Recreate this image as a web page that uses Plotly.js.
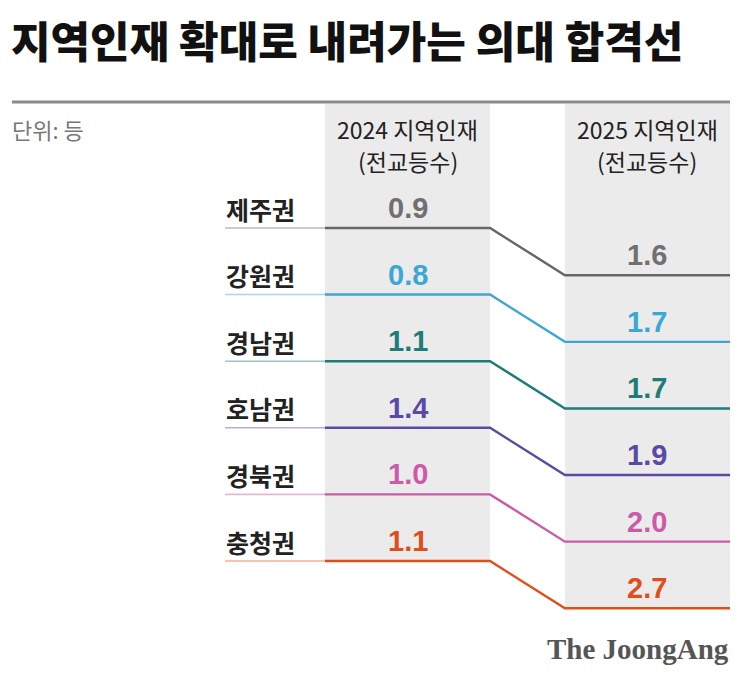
<!DOCTYPE html>
<html>
<head>
<meta charset="utf-8">
<script src="https://cdn.plot.ly/plotly-3.0.1.min.js"></script>
<style>
  html, body { margin: 0; padding: 0; background: #ffffff; }
  #chart { width: 743px; height: 673px; }
</style>
</head>
<body>
<div id="chart"></div>
<script>
// Regions, ordered as rows from top to bottom
const regions = ['제주권', '강원권', '경남권', '호남권', '경북권', '충청권'];
// Cut-off class rank of regional-quota admissions
const rank2024 = [0.9, 0.8, 1.1, 1.4, 1.0, 1.1];
const rank2025 = [1.6, 1.7, 1.7, 1.9, 2.0, 2.7];
const colors = ['#666666', '#3ba7d5', '#217b77', '#5a4aa5', '#cc5aa8', '#e04e1d'];
const labelColors = ['#707070', '#3ba7d5', '#217b77', '#5a4aa5', '#cc5aa8', '#e04e1d'];
const columnYears = ['2024 지역인재', '2025 지역인재'];
const columnSub = '(전교등수)';

// Geometry: x unit = distance between the two column centres; y unit = one row
const COL_HALF = 0.344;      // half width of a shaded column
const LINE_START = -0.76;    // where the row line starts, under the region name
const DROP = 0.71;           // vertical shift of each row in the 2025 column
const LABEL_UP = 0.30;       // labels sit this far above their line
const COL_TOP = -1.86;

const KR = '"Noto Sans CJK KR", "Noto Sans", sans-serif';
const NUM = '"Liberation Sans", Arial, sans-serif';

const traces = [];
const annotations = [];

regions.forEach((name, i) => {
  const yL = i, yR = i + DROP;
  // faint lead-in under the region name
  traces.push({
    type: 'scatter', mode: 'lines', hoverinfo: 'skip', showlegend: false,
    x: [LINE_START, -COL_HALF], y: [yL, yL],
    line: { color: colors[i], width: 1.6 }, opacity: 0.45
  });
  // main slope line across both columns
  traces.push({
    type: 'scatter', mode: 'lines', hoverinfo: 'skip', showlegend: false,
    x: [-COL_HALF, COL_HALF, 1 - COL_HALF, 1 + COL_HALF],
    y: [yL, yL, yR, yR],
    line: { color: colors[i], width: 2.4 }
  });
  annotations.push({
    xref: 'x', yref: 'y', x: LINE_START - 0.005, y: yL - LABEL_UP + 0.01,
    xanchor: 'left', yanchor: 'middle', showarrow: false,
    text: name, font: { family: KR, size: 25, color: '#222222', weight: 700 }
  });
  annotations.push({
    xref: 'x', yref: 'y', x: 0, y: yL - LABEL_UP,
    xanchor: 'center', yanchor: 'middle', showarrow: false,
    text: rank2024[i].toFixed(1), font: { family: NUM, size: 29, color: labelColors[i], weight: 700 }
  });
  annotations.push({
    xref: 'x', yref: 'y', x: 1, y: yR - LABEL_UP,
    xanchor: 'center', yanchor: 'middle', showarrow: false,
    text: rank2025[i].toFixed(1), font: { family: NUM, size: 29, color: labelColors[i], weight: 700 }
  });
});

// column headers: year line and sub line
columnYears.forEach((t, c) => {
  annotations.push({
    xref: 'x', yref: 'y', x: c, y: -1.49,
    xanchor: 'center', yanchor: 'middle', showarrow: false, borderpad: 0,
    text: t, font: { family: KR, size: 23, color: '#222222' }
  });
  annotations.push({
    xref: 'x', yref: 'y', x: c, y: -1.0,
    xanchor: 'center', yanchor: 'middle', showarrow: false, borderpad: 0,
    text: columnSub, font: { family: KR, size: 23, color: '#222222' }
  });
});

const last = regions.length - 1;
const shapes = [
  { type: 'rect', layer: 'below', xref: 'x', yref: 'y',
    x0: -COL_HALF, x1: COL_HALF, y0: COL_TOP, y1: last,
    fillcolor: '#ebebeb', line: { width: 0 } },
  { type: 'rect', layer: 'below', xref: 'x', yref: 'y',
    x0: 1 - COL_HALF, x1: 1 + COL_HALF, y0: COL_TOP, y1: last + DROP,
    fillcolor: '#ebebeb', line: { width: 0 } },
  { type: 'line', xref: 'paper', yref: 'paper',
    x0: 12 / 743, x1: 730 / 743, y0: 1 - 102 / 673, y1: 1 - 102 / 673,
    line: { color: '#8a8a8a', width: 3 } }
];

annotations.push(
  { xref: 'paper', yref: 'paper', x: 9 / 743, y: 1 - 39 / 673,
    xanchor: 'left', yanchor: 'middle', showarrow: false,
    text: '지역인재 확대로 내려가는 의대 합격선',
    font: { family: KR, size: 43, color: '#111111', weight: 900 } },
  { xref: 'paper', yref: 'paper', x: 10 / 743, y: 1 - 129 / 673,
    xanchor: 'left', yanchor: 'middle', showarrow: false,
    text: '단위: 등', font: { family: KR, size: 22, color: '#777777' } },
  { xref: 'paper', yref: 'paper', x: 731 / 743, y: 1 - 649 / 673,
    xanchor: 'right', yanchor: 'middle', showarrow: false,
    text: 'The JoongAng',
    font: { family: '"Liberation Serif", "DejaVu Serif", serif', size: 29, color: '#555555', weight: 700 } }
);

const layout = {
  width: 743, height: 673,
  margin: { l: 0, r: 0, t: 0, b: 0 },
  paper_bgcolor: '#ffffff', plot_bgcolor: 'rgba(0,0,0,0)',
  showlegend: false,
  xaxis: { range: [-1.698, 1.398], visible: false, fixedrange: true },
  yaxis: { range: [6.682, -3.423], visible: false, fixedrange: true },
  shapes: shapes,
  annotations: annotations
};

Plotly.newPlot('chart', traces, layout, { displayModeBar: false, staticPlot: true });
</script>
</body>
</html>
